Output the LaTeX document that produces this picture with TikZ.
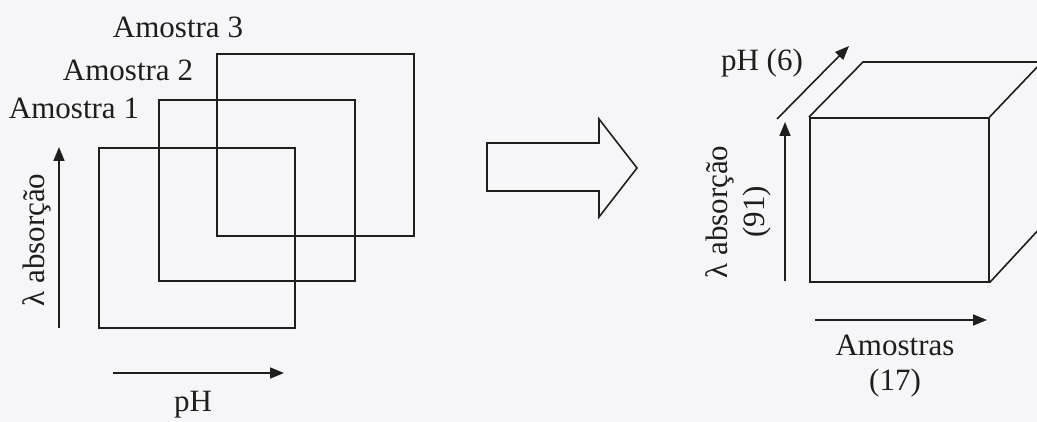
\documentclass[tikz,border=0pt]{standalone}
\usepackage{fontspec}
\setmainfont{Liberation Serif}
\usetikzlibrary{arrows.meta}
\definecolor{ink}{HTML}{1E1E1E}
\definecolor{paper}{HTML}{F6F6F8}
\begin{document}
\begin{tikzpicture}[x=1pt,y=-1pt,
  ln/.style={line width=1.6pt, draw=ink, line join=miter},
  sq/.style={ln, inner sep=0pt, anchor=north west},
  axis/.style={line width=1.6pt, draw=ink, -{Triangle[length=14pt,width=11pt]}},
  lbl/.style={inner sep=0pt, text=ink, font=\fontsize{31}{35}\selectfont},
]
\fill[paper] (0,0) rectangle (1037,422);
\useasboundingbox (0,0) rectangle (1037,422);
\begin{scope}
\clip (0,0) rectangle (1037,422);
% left: three overlapping sample squares
\node[sq, minimum width=196pt, minimum height=180pt] (s1) at (98,147) {};
\node[sq, minimum width=196pt, minimum height=181pt] (s2) at (158,99) {};
\node[sq, minimum width=197pt, minimum height=182pt] (s3) at (216,53) {};
\node[lbl] (t3) at (178,27) {Amostra 3};
\node[lbl] (t2) at (128,70) {Amostra 2};
\node[lbl] (t1) at (74,108) {Amostra 1};
% left axes
\coordinate (lvS) at (59,328);
\coordinate (lvE) at (59,147);
\draw[axis] (lvS) -- (lvE);
\node[lbl, rotate=90] (lam1) at (37,240) {λ absorção};
\coordinate (lhS) at (113,373);
\coordinate (lhE) at (284,373);
\draw[axis] (lhS) -- (lhE);
\node[lbl] (ph1) at (193,405) {pH};
% big hollow arrow
\draw[ln] (487,143) -- (599,143) -- (599,119) -- (637,168) -- (599,217) -- (599,191) -- (487,191) -- cycle;
% cube
\node[sq, minimum width=179pt, minimum height=164pt] (cf) at (809,117) {};
\coordinate (bNW) at (863,62);
\coordinate (bNE) at (1042,62);
\coordinate (bSE) at (1042,226);
\draw[ln] (cf.north west) -- (bNW) -- (bNE) -- (bSE) -- (cf.south east);
\draw[ln] (cf.north east) -- (bNE);
% cube axes
\coordinate (dS) at (777,119);
\coordinate (dE) at (849,46);
\draw[axis] (dS) -- (dE);
\node[lbl] (ph2) at (762,63) {pH (6)};
\coordinate (rvS) at (785,281);
\coordinate (rvE) at (785,122);
\draw[axis] (rvS) -- (rvE);
\node[lbl, rotate=90] (lam2) at (720,212) {λ absorção};
\node[lbl, rotate=90] (n91) at (757,212) {(91)};
\coordinate (rhS) at (815,320);
\coordinate (rhE) at (987,320);
\draw[axis] (rhS) -- (rhE);
\node[lbl] (am) at (895,345) {Amostras};
\node[lbl] (n17) at (895,383) {(17)};
\end{scope}
\end{tikzpicture}
\end{document}
